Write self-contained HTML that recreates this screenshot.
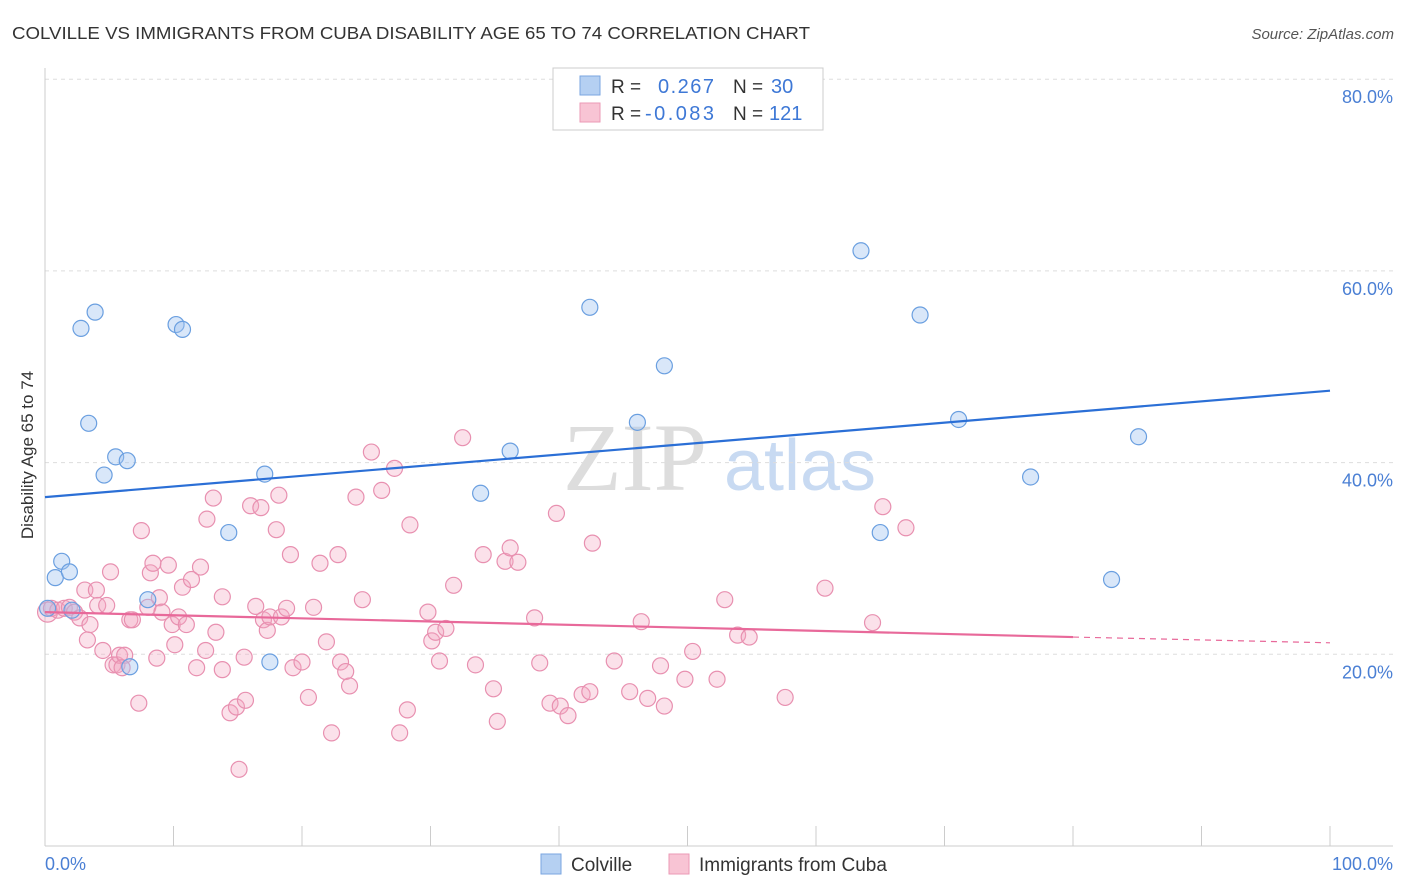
<!DOCTYPE html>
<html><head><meta charset="utf-8"><style>
body{margin:0;background:#fff;font-family:"Liberation Sans",sans-serif;}
#wrap{position:relative;width:1406px;height:892px;overflow:hidden;}
</style></head><body>
<div id="wrap">
<svg id="svg" width="1406" height="892" xmlns="http://www.w3.org/2000/svg">
<text x="12" y="39" font-size="17.5" fill="#333" textLength="798" lengthAdjust="spacingAndGlyphs">COLVILLE VS IMMIGRANTS FROM CUBA DISABILITY AGE 65 TO 74 CORRELATION CHART</text>
<text x="1394" y="39" font-size="15" fill="#555" text-anchor="end" font-style="italic">Source: ZipAtlas.com</text>
<text x="635" y="490" font-size="96" fill="#ddd" text-anchor="middle" font-family="Liberation Serif">ZIP</text>
<text x="800" y="490" font-size="72" fill="#c8daf2" text-anchor="middle">atlas</text>
<g id="grid"></g><g id="marks"></g>
<text transform="translate(33,455) rotate(-90)" font-size="17" fill="#333" text-anchor="middle">Disability Age 65 to 74</text>
<text x="45" y="870" font-size="18" fill="#4a7fd4">0.0%</text>
<text x="1393" y="870" font-size="18" fill="#4a7fd4" text-anchor="end">100.0%</text>
<g>
<rect x="553" y="68" width="270" height="62" fill="#fff" stroke="#ccc"/>
<rect x="580" y="76" width="20" height="19" fill="#b5d0f2" stroke="#7aa6e0"/>
<rect x="580" y="103" width="20" height="19" fill="#f8c4d4" stroke="#eb9ab6"/>
<text x="611" y="93" font-size="19" fill="#333">R = </text><text x="658" y="93" font-size="20" fill="#3e78d6" textLength="56">0.267</text>
<text x="733" y="93" font-size="19" fill="#333">N = </text><text x="771" y="93" font-size="20" fill="#3e78d6">30</text>
<text x="611" y="120" font-size="19" fill="#333">R = </text><text x="645" y="120" font-size="20" fill="#3e78d6" textLength="69">-0.083</text>
<text x="733" y="120" font-size="19" fill="#333">N = </text><text x="769" y="120" font-size="20" fill="#3e78d6">121</text>
</g>
<g>
<rect x="541" y="854" width="20" height="20" fill="#b5d0f2" stroke="#7aa6e0"/>
<text x="571" y="871" font-size="19" fill="#333">Colville</text>
<rect x="669" y="854" width="20" height="20" fill="#f8c4d4" stroke="#eb9ab6"/>
<text x="699" y="871" font-size="19" fill="#333">Immigrants from Cuba</text>
</g>
</svg>
</div>
<script>
const yTicks=[20,40,60,80];
const xTicks=[0,10,20,30,40,50,60,70,80,90,100];
const blueX=[0.8,1.3,1.9,2.1,2.8,3.9,3.4,4.6,5.5,6.4,6.6,8.0,10.2,10.7,14.3,17.1,17.5,33.9,36.2,42.4,46.1,48.2,63.5,65.0,68.1,71.1,76.7,83.0,85.1,0.2];
const blueY=[28.0,29.7,28.6,24.6,54.0,55.7,44.1,38.7,40.6,40.2,18.7,25.7,54.4,53.9,32.7,38.8,19.2,36.8,41.2,56.2,44.2,50.1,62.1,32.7,55.4,44.5,38.5,27.8,42.7,24.8];
const pinkX=[0.2,0.5,1.0,1.5,1.9,2.3,2.7,3.1,3.5,3.3,4.0,4.1,4.5,4.8,5.1,5.3,5.6,5.8,6.2,6.0,6.6,6.8,7.3,7.5,8.0,8.2,8.4,8.7,8.9,9.1,9.6,9.9,10.1,10.4,10.7,11.0,11.4,11.8,12.1,12.5,12.6,13.1,13.3,13.8,13.8,14.4,14.9,15.1,15.5,15.6,16.0,16.4,16.8,17.0,17.3,17.5,18.0,18.2,18.4,18.8,19.1,19.3,20.0,20.5,20.9,21.4,21.9,22.3,22.8,23.0,23.4,23.7,24.2,24.7,25.4,26.2,27.2,27.6,28.2,28.4,29.8,30.1,30.4,30.7,31.2,31.8,32.5,33.5,34.1,34.9,35.2,35.8,36.2,36.8,38.1,38.5,39.3,39.8,40.1,40.7,41.8,42.4,42.6,44.3,45.5,46.4,46.9,47.9,48.2,49.8,50.4,52.3,52.9,53.9,54.8,57.6,60.7,64.4,65.2,67.0];
const pinkY=[24.4,24.8,24.6,24.8,24.9,24.4,23.8,26.7,23.1,21.5,26.7,25.1,20.4,25.1,28.6,18.9,18.9,19.9,19.9,18.6,23.6,23.6,14.9,32.9,24.9,28.5,29.5,19.6,25.9,24.4,29.3,23.1,21.0,23.9,27.0,23.1,27.8,18.6,29.1,20.4,34.1,36.3,22.3,26.0,18.4,13.9,14.5,8.0,19.7,15.2,35.5,25.0,35.3,23.6,22.5,23.9,33.0,36.6,23.9,24.8,30.4,18.6,19.2,15.5,24.9,29.5,21.3,11.8,30.4,19.2,18.2,16.7,36.4,25.7,41.1,37.1,39.4,11.8,14.2,33.5,24.4,21.4,22.3,19.3,22.7,27.2,42.6,18.9,30.4,16.4,13.0,29.7,31.1,29.6,23.8,19.1,14.9,34.7,14.6,13.6,15.8,16.1,31.6,19.3,16.1,23.4,15.4,18.8,14.6,17.4,20.3,17.4,25.7,22.0,21.8,15.5,26.9,23.3,35.4,33.2];
const blueTrend=[36.4,47.5];
const pinkTrend=[24.4,21.8,21.2];
const NS="http://www.w3.org/2000/svg";
const X=v=>45+v*12.85, Y=v=>846-v*9.585;
const grid=document.getElementById('grid'), marks=document.getElementById('marks');
function mk(tag,attrs,parent){const e=document.createElementNS(NS,tag);for(const k in attrs)e.setAttribute(k,attrs[k]);parent.appendChild(e);return e;}
yTicks.forEach(t=>{
 const l=mk('line',{x1:45,x2:1393,y1:Y(t),y2:Y(t),stroke:'#ddd','stroke-dasharray':'4,4'},grid);
 
 
 const tx=mk('text',{x:1393,y:Y(t)+24,'font-size':18,fill:'#4a7fd4','text-anchor':'end'},grid);
 tx.textContent=t.toFixed(1)+'%';
 
 
});
const ax=mk('line',{x1:45,x2:45,y1:68,y2:846,stroke:'#ccc'},grid);


const bx=mk('line',{x1:45,x2:1393,y1:846,y2:846,stroke:'#ccc'},grid);


xTicks.forEach(t=>{
 const l=mk('line',{x1:X(t),x2:X(t),y1:826,y2:846,stroke:'#ccc'},grid);
 
 
});
pinkX.forEach((v,i)=>{
 const c=mk('circle',{cx:X(v),cy:Y(pinkY[i]),r:i==0?10:8,fill:'rgba(244,170,196,0.35)',stroke:'#e890b0','stroke-width':1.2},marks);
 
 
});
blueX.forEach((v,i)=>{
 const c=mk('circle',{cx:X(v),cy:Y(blueY[i]),r:8,fill:'rgba(160,196,240,0.4)',stroke:'#6a9fe0','stroke-width':1.2},marks);
 
 
});
const bl=mk('line',{x1:X(0),y1:Y(blueTrend[0]),x2:X(100),y2:Y(blueTrend[1]),stroke:'#2b6fd6','stroke-width':2.2},marks);


const pl=mk('line',{x1:X(0),y1:Y(pinkTrend[0]),x2:X(80),y2:Y(pinkTrend[1]),stroke:'#e8699a','stroke-width':2.2},marks);


const pd=mk('line',{x1:X(80),y1:Y(pinkTrend[1]),x2:X(100),y2:Y(pinkTrend[2]),stroke:'#e8699a','stroke-width':1.2,'stroke-dasharray':'6,5'},marks);


</script>
</body></html>
